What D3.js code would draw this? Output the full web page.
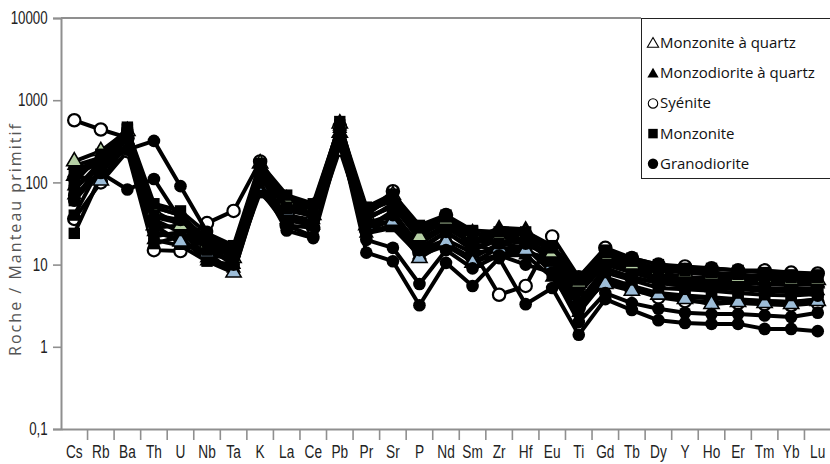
<!DOCTYPE html>
<html><head><meta charset="utf-8">
<script src="https://cdn.jsdelivr.net/npm/d3@7"></script>
<style>body{margin:0;background:#fff}svg{display:block}</style>
</head><body><svg id="c" width="830" height="464"></svg>
<script>
// ---- data ----
const elements = ["Cs","Rb","Ba","Th","U","Nb","Ta","K","La","Ce","Pb","Pr","Sr","P","Nd","Sm","Zr","Hf","Eu","Ti","Gd","Tb","Dy","Y","Ho","Er","Tm","Yb","Lu"];
const yTickValues = [0.1, 1, 10, 100, 1000, 10000];
const yTickLabels = ["0,1", "1", "10", "100", "1000", "10000"];
const groupNames = ["Monzonite à quartz", "Monzodiorite à quartz", "Syénite", "Monzonite", "Granodiorite"];

// Monzonite à quartz (open triangles)
const mq1 = [180,240,420,45,30,18,12,170,60,50,520,40,70,22,35,24,22,24,14,6,13,10,8.5,8,7.5,7,6.8,6.5,6.5];
const mq2 = [120,105,300,30,19,14,8,90,45,40,400,30,34,12,19,10.5,16,15,10,4,5.8,4.8,4.3,3.8,3.3,3.5,3.4,3.3,3.6];
// Monzodiorite à quartz (filled triangles)
const md1 = [160,200,380,35,25,16,10,130,55,45,450,35,55,20,30,20,28,27,13,5,11,8.5,7,6.5,6.3,6,5.8,5.6,5.8];
const md2 = [90,150,260,25,20,12,9,100,40,35,350,28,45,16,25,16,20,22,10,3.5,9,7,6,5.5,5.2,5,4.8,4.6,4.8];
const md3 = [130,170,330,50,40,20,14,150,65,52,480,45,60,25,33,22,24,26,15,5.5,12,9.5,8,7,6.8,6.5,6.3,6,6];
const md4 = [70,130,300,20,17,11,8,85,35,30,280,24,28,13,17,11,13,13,7,2.6,6.5,5.2,4.4,4,3.9,3.7,3.6,3.5,3.7];
// Monzonite (filled squares)
const m1 = [24,120,450,18,22,11,10,75,35,30,300,25,30,15,20,14,15,16,8,3,7,5.5,4.5,4.2,4,3.8,3.6,3.5,3.8];
const m2 = [80,180,470,40,35,22,16,160,50,42,550,38,50,28,38,25,18,20,16,6.5,14,11,9,8.5,8,7.6,7.2,7,7];
const m3 = [60,140,350,22,25,13,12,110,38,32,380,32,40,18,28,18,14,14,12,4.5,10,8,6.5,6,5.8,5.5,5.2,5,5.2];
const m4 = [40,160,400,28,30,15,11,120,48,38,420,42,65,24,32,20,22,20,11,3.2,8,6.5,5.2,5,4.8,4.5,4.3,4.2,4.4];
const m5 = [100,220,440,55,45,24,17,170,70,55,500,50,72,30,40,26,25,25,17,7,15,12,10,9,9,8.5,8,7.5,7.5];
const m6 = [140,190,400,38,32,17,13,140,55,46,460,36,52,20,29,19,19,20,13,4.8,11,9,7.5,7,6.6,6.3,6,5.8,6.2];
// Granodiorite (filled circles)
const g1 = [60,180,250,320,90,25,12,150,30,22,350,14,11,3.2,10.5,5.5,12,3.3,5.2,1.4,3.8,2.8,2.1,1.95,1.9,1.9,1.65,1.65,1.55];
const g2 = [70,130,82,110,35,18,10,100,26,21,300,20,16,5.8,15,9,13,10,8,2,4.5,3.4,2.9,2.6,2.5,2.5,2.4,2.3,2.6];
const g3 = [110,200,420,50,40,20,13,130,50,40,420,30,40,15,25,15,20,18,12,3.5,9,7,6,5.5,5.4,5.3,5,4.8,4.2];
// Syénite (open circles)
const s1 = [570,440,350,30,18,32,45,180,60,50,480,42,78,24,40,15,4.3,5.5,22,7,16,12,10,9.5,9,8.5,8.5,8,7.8];
const s2 = [36,100,240,15,14.6,20,15,80,30,28,250,26,35,14,18,12,18,16,9,3,6,5,4,3.6,3.5,3.4,3.3,3.2,3.4];

const samples = [
  {g:2, v:s1}, {g:2, v:s2},
  {g:3, v:m1}, {g:1, v:md2}, {g:1, v:md4}, {g:3, v:m3}, {g:0, v:mq2, tint:"#9dbdd8"}, {g:1, v:md1},
  {g:3, v:m4}, {g:3, v:m6}, {g:4, v:g3}, {g:1, v:md3}, {g:0, v:mq1, tint:"#b5cfa4"}, {g:3, v:m2}, {g:3, v:m5},
  {g:4, v:g2}, {g:4, v:g1}
];

// ---- chart ----
const svg = d3.select("#c");
const x = d3.scaleBand().domain(elements).range([61, 831]);
const cx = d => x(d) + x.bandwidth() / 2;
const y = d3.scaleLog().domain([0.1, 10000]).range([429, 18]);
const axisCol = "#8f8f8f";

const symTypes = [d3.symbolTriangle, d3.symbolTriangle, d3.symbolCircle, d3.symbolSquare, d3.symbolCircle];
const symSizes = [100, 100, 120, 130, 125];
const symFill = ["#fff", "#000", "#fff", "#000", "#000"];
const symStroke = [1.8, 0, 2.2, 0, 0];

// data
const plot = svg.append("g");
const line = d3.line().x((d, i) => cx(elements[i])).y(d => y(d));
samples.forEach(s => {
  const gg = plot.append("g");
  gg.append("path").datum(s.v).attr("d", line)
    .attr("fill", "none").attr("stroke", "#000").attr("stroke-width", 4).attr("stroke-linejoin", "round");
  gg.selectAll("path.m").data(s.v).join("path").attr("class", "m")
    .attr("transform", (d, i) => `translate(${cx(elements[i])},${y(d)})`)
    .attr("d", d3.symbol().type(symTypes[s.g]).size(symSizes[s.g]))
    .attr("fill", s.tint || symFill[s.g])
    .attr("stroke", "#000").attr("stroke-width", s.tint ? 1.6 : symStroke[s.g]);
});

// y axis
const yAxis = svg.append("g").attr("transform", "translate(61,0)")
  .call(d3.axisLeft(y).tickValues(yTickValues).tickFormat((d, i) => yTickLabels[i]).tickSize(8).tickPadding(6));
yAxis.select(".domain").attr("stroke", axisCol).attr("stroke-width", 2);
yAxis.selectAll(".tick line").attr("stroke", axisCol).attr("stroke-width", 1.6);
yAxis.selectAll(".tick text")
  .attr("font-family", "'Liberation Sans Narrow', 'Liberation Sans', sans-serif")
  .attr("font-size", 18).attr("fill", "#222")
  .attr("transform", "scale(0.74,1)").attr("x", -18);

// x axis
const xAxis = svg.append("g").attr("transform", "translate(0,429)")
  .call(d3.axisBottom(x).tickSize(0).tickPadding(0));
xAxis.select(".domain").attr("stroke", axisCol).attr("stroke-width", 2);
xAxis.selectAll(".tick text")
  .attr("font-family", "'Liberation Sans Narrow', 'Liberation Sans', sans-serif")
  .attr("font-size", 18.5).attr("fill", "#222")
  .attr("dy", null).attr("y", 29)
  .attr("transform", "scale(0.74,1)");
xAxis.selectAll("line.bt").data(elements.slice(1)).join("line").attr("class", "bt")
  .attr("x1", d => x(d)).attr("x2", d => x(d)).attr("y1", 0).attr("y2", 11)
  .attr("stroke", axisCol).attr("stroke-width", 1.6);

// top frame line
svg.append("line").attr("x1", 61).attr("x2", 641).attr("y1", 18).attr("y2", 18)
  .attr("stroke", axisCol).attr("stroke-width", 2);

// y label
svg.append("text").attr("transform", "translate(21,240) rotate(-90)")
  .attr("text-anchor", "middle").attr("font-family", "'Open Sans', sans-serif")
  .attr("font-size", 16).attr("fill", "#555")
  .attr("textLength", 232).attr("lengthAdjust", "spacing")
  .text("Roche / Manteau primitif");

// legend
const lg = svg.append("g");
lg.append("rect").attr("x", 641.5).attr("y", 18.5).attr("width", 200).attr("height", 160)
  .attr("fill", "#fff").attr("stroke", "#222").attr("stroke-width", 1);
const legSym = [d3.symbolTriangle, d3.symbolTriangle, d3.symbolCircle, d3.symbolSquare, d3.symbolCircle];
const legSize = [55, 55, 70, 90, 85];
groupNames.forEach((n, i) => {
  const yy = 43 + i * 30.2;
  lg.append("path").attr("transform", `translate(653,${yy + (i < 2 ? 1 : 0)})`)
    .attr("d", d3.symbol().type(legSym[i]).size(legSize[i]))
    .attr("fill", symFill[i]).attr("stroke", "#000").attr("stroke-width", symStroke[i] ? 1.1 : 0);
  lg.append("text").attr("x", 660).attr("y", yy + 5)
    .attr("font-family", "'Open Sans', sans-serif").attr("font-size", 15).attr("fill", "#111")
    .text(n);
});
</script></body></html>
